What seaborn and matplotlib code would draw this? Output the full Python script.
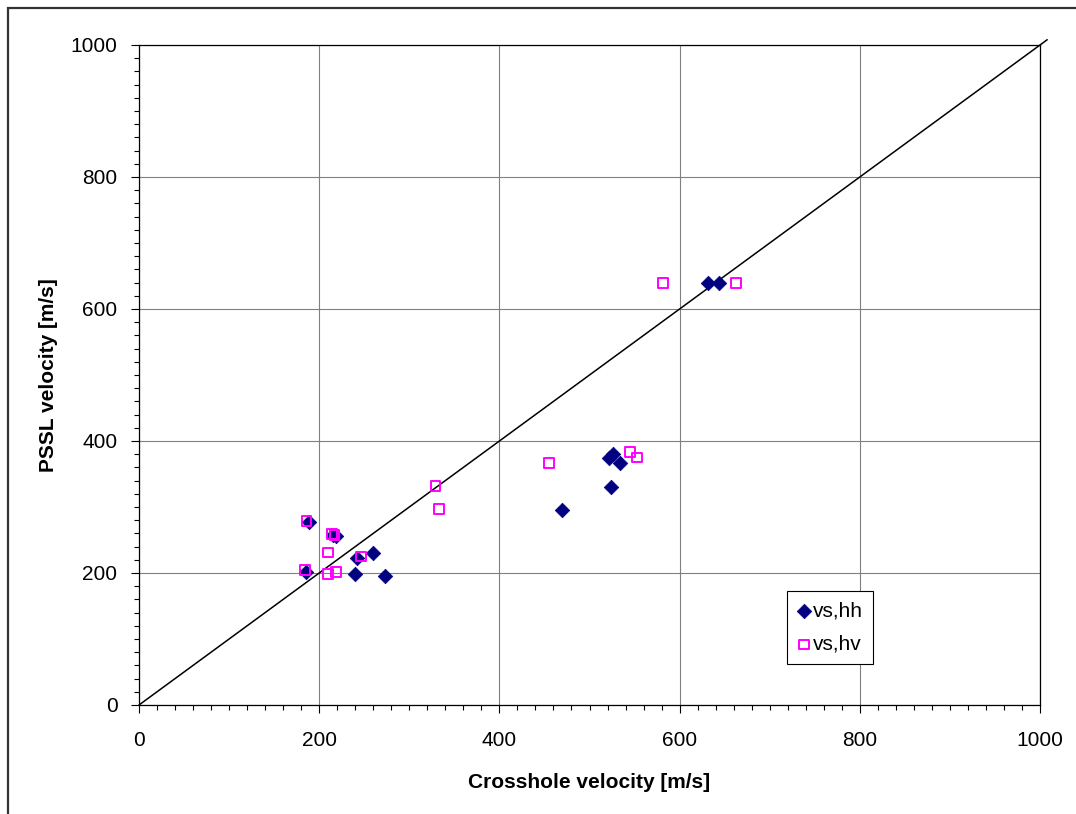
import matplotlib
matplotlib.use("Agg")
import matplotlib.pyplot as plt
from matplotlib.patches import Rectangle
from matplotlib.ticker import MultipleLocator
import seaborn as sns
import pandas as pd

# Crosshole vs. PSSL shear-wave velocities [m/s]
hh_crosshole = [189, 215, 219, 185, 242, 260, 240, 273, 470, 526, 522, 534, 524, 632, 644]
hh_pssl = [278, 258, 256, 202, 223, 230, 199, 196, 295, 381, 374, 366, 331, 639, 639]

hv_crosshole = [186, 214, 217, 210, 246, 184, 210, 219, 329, 333, 455, 545, 553, 582, 663]
hv_pssl = [279, 259, 258, 231, 225, 204, 198, 201, 332, 297, 367, 383, 375, 640, 640]

series_names = ["vs,hh", "vs,hv"]
x_label = "Crosshole velocity [m/s]"
y_label = "PSSL velocity [m/s]"

sns.set_style("ticks")
plt.rcParams["font.family"] = ["Liberation Sans", "DejaVu Sans"]
plt.rcParams["text.color"] = "black"
plt.rcParams["axes.labelcolor"] = "black"
plt.rcParams["xtick.color"] = "black"
plt.rcParams["ytick.color"] = "black"

df_hh = pd.DataFrame({"x": hh_crosshole, "y": hh_pssl, "series": series_names[0]})
df_hv = pd.DataFrame({"x": hv_crosshole, "y": hv_pssl, "series": series_names[1]})

W, H = 1076, 814
fig = plt.figure(figsize=(W / 100, H / 100), dpi=100)
ax = fig.add_axes([139 / W, 1 - 705 / H, (1040 - 139) / W, (705 - 45) / H])

# grid and 1:1 line
ax.set_axisbelow(True)
ax.grid(True, which="major", color="#808080", linewidth=0.8)
ax.plot([0, 1008], [0, 1008], color="black", linewidth=1.1, clip_on=False, zorder=2)

sns.scatterplot(data=df_hh, x="x", y="y", marker="D", color="#000080",
                edgecolor="#000080", s=55, linewidth=0.5, ax=ax, zorder=3,
                label=series_names[0])
sns.scatterplot(data=df_hv, x="x", y="y", marker="s", color="#FF00FF",
                s=50, linewidth=1.4, ax=ax, zorder=4, label=series_names[1])
sq = ax.collections[-1]
sq.set_facecolor("none")
sq.set_edgecolor("#FF00FF")

ax.set_xlim(0, 1000)
ax.set_ylim(0, 1000)
ax.xaxis.set_major_locator(MultipleLocator(200))
ax.yaxis.set_major_locator(MultipleLocator(200))
ax.xaxis.set_minor_locator(MultipleLocator(20))
ax.yaxis.set_minor_locator(MultipleLocator(20))
ax.tick_params(which="major", direction="out", length=5.5, width=0.8,
               labelsize=15, color="black", labelcolor="black")
ax.tick_params(which="minor", direction="out", length=3.8, width=0.8, color="black")
ax.tick_params(axis="x", which="major", pad=13)
ax.tick_params(axis="y", which="major", pad=10)

for s in ax.spines.values():
    s.set_color("black")
    s.set_linewidth(0.9)

ax.set_xlabel(x_label, fontsize=15, fontweight="bold", labelpad=17, color="black")
ax.set_ylabel(y_label, fontsize=15, fontweight="bold", labelpad=9, color="black")

# legend
handles, labels = ax.get_legend_handles_labels()
leg = ax.legend(handles, labels, loc="upper left",
                bbox_to_anchor=(787 / W, 1 - 591 / H), bbox_transform=fig.transFigure,
                fontsize=15, frameon=True, fancybox=False, edgecolor="black",
                framealpha=1, handlelength=0.6, handletextpad=0.15,
                borderpad=0.5, labelspacing=0.7, borderaxespad=0)
leg.get_frame().set_linewidth(0.8)
for t in leg.get_texts():
    t.set_color("black")
leg_handles = getattr(leg, "legend_handles", None) or leg.legendHandles
leg_handles[1].set_facecolor("none")
leg_handles[1].set_edgecolor("#FF00FF")

# outer chart border
fig.patches.append(Rectangle((8 / W, -0.5), 2, 1.5 - 8 / H, transform=fig.transFigure,
                             fill=False, edgecolor="#333333", linewidth=1.6))

fig.savefig("out.png", dpi=100)
